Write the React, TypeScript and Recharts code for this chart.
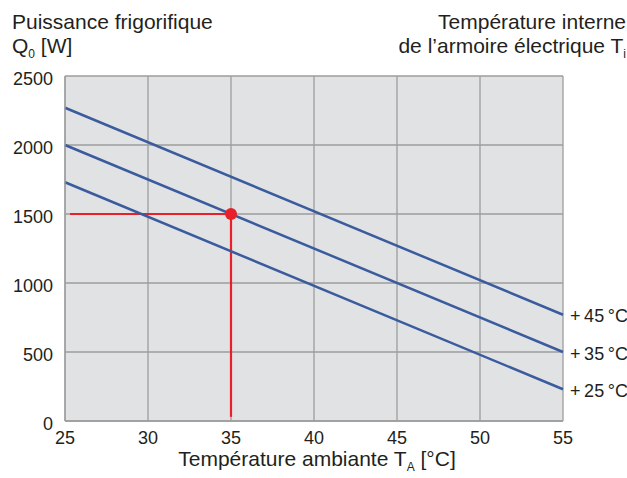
import {
  ComposedChart,
  Line,
  XAxis,
  YAxis,
  CartesianGrid,
  ReferenceLine,
  ReferenceDot,
  LabelList,
} from 'recharts'

const ambientTemps = [25, 55]
const q45 = [2270, 770]
const q35 = [2000, 500]
const q25 = [1730, 230]
const lineLabels = ['+\u200945\u2009°C', '+\u200935\u2009°C', '+\u200925\u2009°C']
const xTicks = [25, 30, 35, 40, 45, 50, 55]
const yTicks = [0, 500, 1000, 1500, 2000, 2500]
const opTemp = 35
const opPower = 1500

const data = ambientTemps.map((t, i) => ({ t, q45: q45[i], q35: q35[i], q25: q25[i] }))

const font = '"Liberation Sans", Arial, sans-serif'
const textColor = '#231f20'
const blue = '#3a5b9e'
const red = '#e8202a'
const gridColor = '#9d9d9d'

const endLabel = (text: string) => (props: any) => {
  if (props.index !== ambientTemps.length - 1) return null
  return (
    <text x={props.x + 7} y={props.y} dy="0.42em" fontSize={18} fill={textColor} fontFamily={font}>
      {text}
    </text>
  )
}

const subStyle = { fontSize: 12, verticalAlign: '-5px', lineHeight: 0 }

export default function App() {
  return (
    <div style={{ position: 'absolute', left: 0, top: 0, width: 627, height: 478, fontFamily: font, color: textColor }}>
      <div style={{ position: 'absolute', left: 12, top: 10, fontSize: 21, lineHeight: '24px', whiteSpace: 'nowrap' }}>
        Puissance frigorifique
        <br />
        Q<span style={subStyle}>0</span> [W]
      </div>
      <div style={{ position: 'absolute', right: 1, top: 10, fontSize: 21, lineHeight: '24px', textAlign: 'right', whiteSpace: 'nowrap' }}>
        Température interne
        <br />
        de l’armoire électrique T<span style={subStyle}>i</span>
      </div>
      <div style={{ position: 'absolute', left: 65, width: 504, top: 447, fontSize: 21, lineHeight: '24px', textAlign: 'center', whiteSpace: 'nowrap' }}>
        Température ambiante T<span style={subStyle}>A</span> [°C]
      </div>
      <ComposedChart width={627} height={478} data={data} margin={{ top: 76, right: 64, bottom: 0, left: 0 }}>
        <CartesianGrid fill="#e1e2e4" stroke={gridColor} strokeWidth={1.3} />
        <XAxis
          dataKey="t"
          type="number"
          domain={[25, 55]}
          ticks={xTicks}
          height={57}
          tickLine={false}
          tickSize={0}
          tickMargin={10}
          axisLine={{ stroke: gridColor, strokeWidth: 1.3 }}
          tick={{ fill: textColor, fontSize: 18, fontFamily: font }}
        />
        <YAxis
          type="number"
          domain={[0, 2500]}
          ticks={yTicks}
          width={65}
          tickLine={false}
          tickSize={0}
          tickMargin={12}
          axisLine={{ stroke: gridColor, strokeWidth: 1.3 }}
          tick={{ fill: textColor, fontSize: 18, fontFamily: font, dy: 3 }}
        />
        <ReferenceLine
          segment={[{ x: 25.3, y: opPower }, { x: opTemp, y: opPower }]}
          stroke={red}
          strokeWidth={2.2}
        />
        <ReferenceLine
          segment={[{ x: opTemp, y: opPower }, { x: opTemp, y: 30 }]}
          stroke={red}
          strokeWidth={2.2}
        />
        <Line dataKey="q45" stroke={blue} strokeWidth={2.5} dot={false} isAnimationActive={false}>
          <LabelList dataKey="q45" content={endLabel(lineLabels[0])} />
        </Line>
        <Line dataKey="q35" stroke={blue} strokeWidth={2.5} dot={false} isAnimationActive={false}>
          <LabelList dataKey="q35" content={endLabel(lineLabels[1])} />
        </Line>
        <Line dataKey="q25" stroke={blue} strokeWidth={2.5} dot={false} isAnimationActive={false}>
          <LabelList dataKey="q25" content={endLabel(lineLabels[2])} />
        </Line>
        <ReferenceDot x={opTemp} y={opPower} r={6} fill={red} stroke="none" />
      </ComposedChart>
    </div>
  )
}
